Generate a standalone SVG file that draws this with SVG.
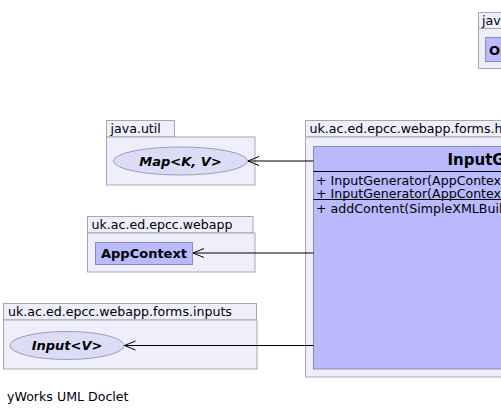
<svg xmlns="http://www.w3.org/2000/svg" width="501" height="415" viewBox="0 0 501 415">
<style>
.pkg{fill:#efeffb;stroke:#a6a6b6;stroke-width:1}
.cls{fill:#babaff;stroke:#8a8ab8;stroke-width:1}
.ifc{fill:#dcdcf7;stroke:#9c9cb6;stroke-width:1}
.plabel{font-family:"DejaVu Sans",sans-serif;font-size:12.6px;fill:#000}
.bold{font-family:"DejaVu Sans",sans-serif;font-size:13px;font-weight:bold;fill:#000}
.bi{font-family:"DejaVu Sans",sans-serif;font-size:13px;font-weight:bold;font-style:italic;fill:#000}
.title{font-family:"DejaVu Sans",sans-serif;font-size:15px;font-weight:bold;fill:#000}
.mem{font-family:"DejaVu Sans",sans-serif;font-size:12.6px;fill:#000}
.sep{stroke:#000;stroke-width:1}
.edge{stroke:#000;stroke-width:1;fill:none}
</style>
<defs>
<marker id="open" markerWidth="14" markerHeight="12" refX="11" refY="6" orient="auto" markerUnits="userSpaceOnUse">
<path d="M0,1.5 L11,6 L0,10.5" fill="none" stroke="#000" stroke-width="1"/>
</marker>
</defs>
<rect width="501" height="415" fill="#fff"/>
<g id="pkg-java-lang">
<rect class="pkg" x="478.5" y="12.5" width="60" height="16"/>
<rect class="pkg" x="478.5" y="28.5" width="80" height="40"/>
<text class="plabel" x="482" y="25">java.lang</text>
<g id="Object">
<rect class="cls" x="485.5" y="37.5" width="60" height="24"/>
<text class="bold" x="489" y="54.5">Object</text>
</g>
</g>
<g id="pkg-java-util">
<rect class="pkg" x="106.5" y="120.5" width="68" height="16.5"/>
<rect class="pkg" x="106.5" y="137" width="148.5" height="48"/>
<text class="plabel" x="110.5" y="132.5">java.util</text>
<g id="Map">
<ellipse class="ifc" cx="180.5" cy="161" rx="67" ry="14"/>
<text class="bi" x="180.5" y="165.5" text-anchor="middle">Map&lt;K, V&gt;</text>
</g>
</g>
<g id="pkg-webapp">
<rect class="pkg" x="87.5" y="216.5" width="165.5" height="16.5"/>
<rect class="pkg" x="87.5" y="233" width="167.5" height="39"/>
<text class="plabel" x="91.5" y="229">uk.ac.ed.epcc.webapp</text>
<g id="AppContext">
<rect class="cls" x="95.5" y="242.5" width="97" height="22"/>
<text class="bold" x="144" y="258" text-anchor="middle">AppContext</text>
</g>
</g>
<g id="pkg-inputs">
<rect class="pkg" x="3.5" y="303.5" width="253" height="16.5"/>
<rect class="pkg" x="3.5" y="320" width="253.5" height="49"/>
<text class="plabel" x="8" y="316">uk.ac.ed.epcc.webapp.forms.inputs</text>
<g id="Input">
<ellipse class="ifc" cx="67" cy="345.5" rx="57" ry="14"/>
<text class="bi" x="67" y="350" text-anchor="middle">Input&lt;V&gt;</text>
</g>
</g>
<g id="pkg-html">
<rect class="pkg" x="305.5" y="120.5" width="240" height="16.5"/>
<rect class="pkg" x="305.5" y="137" width="300" height="240"/>
<text class="plabel" x="309.5" y="132.5">uk.ac.ed.epcc.webapp.forms.html</text>
<g id="InputGenerator">
<rect class="cls" x="313.5" y="146.5" width="280" height="222.5"/>
<text class="title" x="447.5" y="165">InputGenerator</text>
<line class="sep" x1="313.5" y1="171.5" x2="593.5" y2="171.5"/>
<text class="mem" x="316" y="184.5">+ InputGenerator(AppContext conn)</text>
<text class="mem" x="316" y="197.5">+ InputGenerator(AppContext conn, boolean)</text>
<line class="sep" x1="313.5" y1="199.5" x2="593.5" y2="199.5"/>
<text class="mem" x="316" y="213">+ addContent(SimpleXMLBuilder, Input)</text>
</g>
</g>
<g id="connectors">
<line class="edge" x1="313.5" y1="161" x2="248" y2="161" marker-end="url(#open)"/>
<line class="edge" x1="313.5" y1="253" x2="193" y2="253" marker-end="url(#open)"/>
<line class="edge" x1="313.5" y1="345.5" x2="124.5" y2="345.5" marker-end="url(#open)"/>
</g>
<text class="plabel" x="7" y="401">yWorks UML Doclet</text>
</svg>
